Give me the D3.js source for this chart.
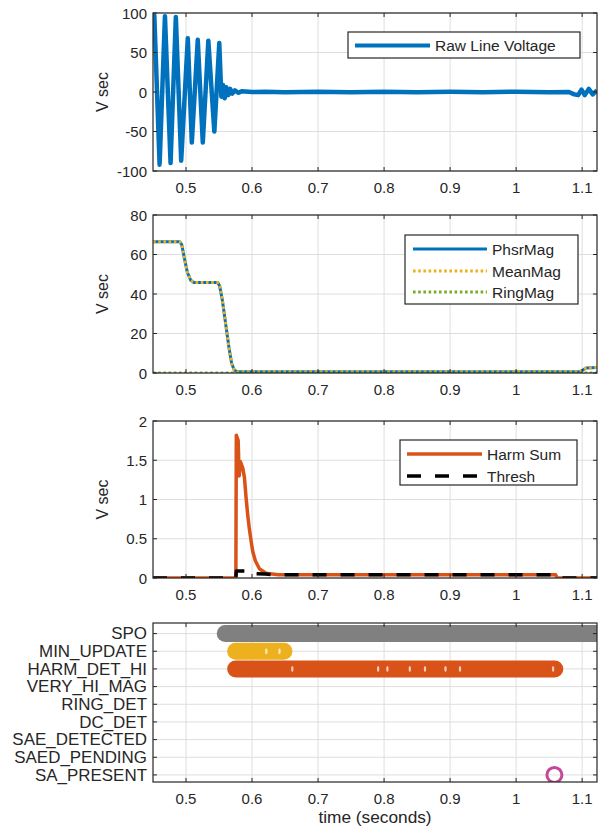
<!DOCTYPE html>
<html>
<head>
<meta charset="utf-8">
<script src="https://cdn.jsdelivr.net/npm/d3@7"></script>
<style>
  body { margin: 0; background: #fff; }
  svg { display: block; font-family: "Liberation Sans", Arial, sans-serif; }
</style>
</head>
<body>
<svg id="chart" width="598" height="826"></svg>
<script>
// ---- data ----
const xTicks = [0.5, 0.6, 0.7, 0.8, 0.9, 1, 1.1];

// raw line voltage (peaks / troughs)
const rawT = [0.4500, 0.4520, 0.4600, 0.4681, 0.4766, 0.4846, 0.4927, 0.5027, 0.5088, 0.5178,
  0.5254, 0.5338, 0.5429, 0.5504, 0.5535, 0.5560, 0.5585, 0.5610, 0.5640, 0.5670, 0.5700,
  0.5740, 0.5790, 0.5850, 0.6000, 0.6200, 0.6500, 0.7000, 0.7500, 0.8000, 0.8500, 0.9000,
  0.9500, 1.0000, 1.0500, 1.0800, 1.0880, 1.0940, 1.0990, 1.1040, 1.1100, 1.1160, 1.1225];
const rawV = [88, 97, -92, 96, -90, 95, -87, 68, -64, 66,
  -64, 65, -50, 62, -6, 9, -8, 6, -4, 4, -2,
  2, -1, 1, 0, 0.4, -0.2, 0.3, -0.2, 0.3, -0.3, 0.2,
  -0.2, 0.3, -0.2, 0, -3, -4, 3, -4, 4, -3, 2];

// magnitudes
const magT = [0.45, 0.4905, 0.4935, 0.497, 0.502, 0.507, 0.512, 0.548, 0.551, 0.555,
  0.560, 0.565, 0.569, 0.573, 0.578, 1.097, 1.101, 1.106, 1.1225];
const phsrMag = [66.5, 66.5, 65, 59, 51, 47, 45.8, 45.8, 44, 37,
  25, 13, 5, 1.5, 0.6, 0.6, 1.5, 2.5, 2.8];
const meanMag = [66.5, 66.5, 65, 59, 51, 47, 45.8, 45.8, 44, 37,
  25, 13, 5, 1.5, 0.6, 0.6, 1.5, 2.5, 2.8];
const ringT = [0.45, 1.1225];
const ringMag = [0, 0];

// harmonics
const harmT = [0.45, 0.5755, 0.5762, 0.5790, 0.5805, 0.5825, 0.5860, 0.5885, 0.5910, 0.5935,
  0.5960, 0.5990, 0.6010, 0.6050, 0.6110, 0.6210, 0.6400, 1.0600, 1.0620, 1.1225];
const harmSum = [0, 0, 1.82, 1.75, 1.30, 1.48, 1.40, 1.28, 1.02, 0.80,
  0.62, 0.45, 0.34, 0.22, 0.12, 0.06, 0.04, 0.04, 0, 0];
const threshT = [0.45, 0.5755, 0.5762, 0.5920, 0.5930, 0.6200, 0.6400, 1.0600, 1.0620, 1.1225];
const thresh = [0, 0, 0.09, 0.09, 0.06, 0.05, 0.04, 0.04, 0, 0];

// status flags (top to bottom)
const flagNames = ["SPO", "MIN_UPDATE", "HARM_DET_HI", "VERY_HI_MAG", "RING_DET",
  "DC_DET", "SAE_DETECTED", "SAED_PENDING", "SA_PRESENT"];
const spoOn = [[0.5594, 1.13]];
const minUpdateOn = [[0.5752, 0.6483]];
const harmDetOn = [[0.5752, 1.0586]];
const minUpdateGaps = [0.6216, 0.6416];
const harmDetGaps = [0.661, 0.791, 0.805, 0.839, 0.862, 0.893, 0.915, 1.056];
const saPresentT = [1.058];

// ---- drawing ----
const svg = d3.select("#chart");
const textColor = "#262626";
const gridColor = "#dedede";

const x = d3.scaleLinear().domain([0.45, 1.1225]).range([153, 597]);

function zip(ts, vs) {
  return ts.map((t, i) => [t, vs[i]]);
}

function stretchText(sel, px, py, sx) {
  return sel.attr("transform", `translate(${px},${py}) scale(${sx},1)`);
}

function makePanel(id, top, bottom, yDomain, yTicks, yFormat) {
  const y = d3.scaleLinear().domain(yDomain).range([bottom, top]);
  const g = svg.append("g");

  g.append("clipPath").attr("id", "clip" + id)
    .append("rect")
    .attr("x", x.range()[0]).attr("y", top)
    .attr("width", x.range()[1] - x.range()[0]).attr("height", bottom - top);

  // grid
  g.append("g").selectAll("line").data(xTicks).join("line")
    .attr("x1", d => x(d)).attr("x2", d => x(d))
    .attr("y1", top).attr("y2", bottom)
    .attr("stroke", gridColor);
  g.append("g").selectAll("line").data(yTicks).join("line")
    .attr("x1", x.range()[0]).attr("x2", x.range()[1])
    .attr("y1", d => y(d)).attr("y2", d => y(d))
    .attr("stroke", gridColor);

  const plot = g.append("g").attr("clip-path", `url(#clip${id})`);
  const front = svg.append("g");

  function finish() {
    // box
    front.append("rect")
      .attr("x", x.range()[0]).attr("y", top)
      .attr("width", x.range()[1] - x.range()[0]).attr("height", bottom - top)
      .attr("fill", "none").attr("stroke", textColor).attr("stroke-width", 1.2);
    // inward ticks, all four sides
    const tk = 4;
    xTicks.forEach(t => {
      front.append("line").attr("x1", x(t)).attr("x2", x(t)).attr("y1", bottom).attr("y2", bottom - tk).attr("stroke", textColor);
      front.append("line").attr("x1", x(t)).attr("x2", x(t)).attr("y1", top).attr("y2", top + tk).attr("stroke", textColor);
    });
    yTicks.forEach(v => {
      front.append("line").attr("x1", x.range()[0]).attr("x2", x.range()[0] + tk).attr("y1", y(v)).attr("y2", y(v)).attr("stroke", textColor);
      front.append("line").attr("x1", x.range()[1]).attr("x2", x.range()[1] - tk).attr("y1", y(v)).attr("y2", y(v)).attr("stroke", textColor);
    });
    // tick labels
    front.append("g").selectAll("text").data(xTicks).join("text")
      .attr("x", d => x(d)).attr("y", bottom + 16)
      .attr("text-anchor", "middle").attr("dominant-baseline", "central")
      .attr("font-size", 15).attr("fill", textColor)
      .text(d => String(d));
    const yl = front.append("g").selectAll("text").data(yTicks).join("text")
      .attr("text-anchor", "end").attr("dominant-baseline", "central")
      .attr("font-size", yFormat ? 16 : 15).attr("fill", textColor)
      .text(d => yFormat ? yFormat(d) : String(d));
    yl.attr("transform", d => `translate(${x.range()[0] - 6},${y(d)}) scale(${yFormat ? 1.06 : 1},1)`);
  }

  return { g, plot, front, y, top, bottom, finish };
}

function yLabel(p, label) {
  p.front.append("text")
    .attr("transform", `translate(102,${(p.top + p.bottom) / 2}) rotate(-90)`)
    .attr("text-anchor", "middle").attr("dominant-baseline", "central")
    .attr("font-size", 16).attr("fill", textColor)
    .text(label);
}

function drawLine(p, pts, color, width, dash) {
  const line = d3.line().x(d => x(d[0])).y(d => p.y(d[1]));
  p.plot.append("path")
    .attr("d", line(pts))
    .attr("fill", "none")
    .attr("stroke", color)
    .attr("stroke-width", width)
    .attr("stroke-linejoin", "round")
    .attr("stroke-dasharray", dash || null);
}

function legend(p, box, entries) {
  const lg = p.front.append("g");
  lg.append("rect")
    .attr("x", box.x).attr("y", box.y).attr("width", box.w).attr("height", box.h)
    .attr("fill", "#fff").attr("stroke", textColor).attr("stroke-width", 1.2);
  entries.forEach(e => {
    lg.append("line")
      .attr("x1", box.lx0).attr("x2", box.lx1).attr("y1", e.y).attr("y2", e.y)
      .attr("stroke", e.color).attr("stroke-width", e.width)
      .attr("stroke-dasharray", e.dash || null);
    lg.append("text")
      .attr("x", box.tx).attr("y", e.y)
      .attr("dominant-baseline", "central")
      .attr("font-size", 15.5).attr("fill", textColor)
      .text(e.label);
  });
}

// panel 1: raw voltage
const p1 = makePanel(1, 13, 171, [-100, 100], [-100, -50, 0, 50, 100]);
drawLine(p1, zip(rawT, rawV), "#0072BD", 4.5);
p1.finish();
yLabel(p1, "V sec");
legend(p1, { x: 348, y: 32, w: 232, h: 26, lx0: 355, lx1: 430, tx: 435 }, [
  { label: "Raw Line Voltage", color: "#0072BD", width: 4, y: 45.5 }
]);

// panel 2: magnitudes
const p2 = makePanel(2, 215, 373, [0, 80], [0, 20, 40, 60, 80]);
drawLine(p2, zip(magT, phsrMag), "#0072BD", 3);
drawLine(p2, zip(magT, meanMag), "#EDB120", 3, "2.6,2.6");
drawLine(p2, zip(ringT, ringMag), "#77AC30", 3, "2.6,2.6");
p2.finish();
yLabel(p2, "V sec");
legend(p2, { x: 405, y: 235, w: 173, h: 69, lx0: 413, lx1: 487, tx: 492 }, [
  { label: "PhsrMag", color: "#0072BD", width: 3, y: 249 },
  { label: "MeanMag", color: "#EDB120", width: 3, dash: "2.6,2.6", y: 271 },
  { label: "RingMag", color: "#77AC30", width: 3, dash: "2.6,2.6", y: 292 }
]);

// panel 3: harmonics
const p3 = makePanel(3, 421, 578, [0, 2], [0, 0.5, 1, 1.5, 2]);
drawLine(p3, zip(harmT, harmSum), "#D95319", 3.5);
drawLine(p3, zip(threshT, thresh), "#000000", 3.5, "14,14");
p3.finish();
yLabel(p3, "V sec");
legend(p3, { x: 400, y: 440, w: 177, h: 45, lx0: 407, lx1: 482, tx: 487 }, [
  { label: "Harm Sum", color: "#D95319", width: 3.5, y: 454 },
  { label: "Thresh", color: "#000000", width: 3.5, dash: "14,14", y: 476 }
]);

// panel 4: flags
const flagIdx = d3.scaleOrdinal().domain(flagNames).range(d3.range(flagNames.length, 0, -1));
const flagTicks = d3.range(1, flagNames.length + 1);
const p4 = makePanel(4, 623, 782, [0.6, 9.6], flagTicks, v => flagNames[flagNames.length - v]);

function drawBand(name, spans, color) {
  const yy = p4.y(flagIdx(name));
  p4.plot.append("g").selectAll("line").data(spans).join("line")
    .attr("x1", d => x(d[0])).attr("x2", d => x(d[1]))
    .attr("y1", yy).attr("y2", yy)
    .attr("stroke", color).attr("stroke-width", 17)
    .attr("stroke-linecap", "round");
}

function drawGaps(name, ts) {
  const yy = p4.y(flagIdx(name));
  p4.plot.append("g").selectAll("ellipse").data(ts).join("ellipse")
    .attr("cx", d => x(d)).attr("cy", yy)
    .attr("rx", 1.2).attr("ry", 3)
    .attr("fill", "#fff").attr("opacity", 0.7);
}

drawBand("SPO", spoOn, "#808080");
drawBand("MIN_UPDATE", minUpdateOn, "#EDB120");
drawBand("HARM_DET_HI", harmDetOn, "#D95319");
drawGaps("MIN_UPDATE", minUpdateGaps);
drawGaps("HARM_DET_HI", harmDetGaps);

p4.plot.append("g").selectAll("circle").data(saPresentT).join("circle")
  .attr("cx", d => x(d)).attr("cy", p4.y(flagIdx("SA_PRESENT")))
  .attr("r", 7.5)
  .attr("fill", "none").attr("stroke", "#C4489A").attr("stroke-width", 3);

p4.finish();

stretchText(
  p4.front.append("text")
    .attr("text-anchor", "middle").attr("dominant-baseline", "central")
    .attr("font-size", 16).attr("fill", textColor)
    .text("time (seconds)"),
  (x.range()[0] + x.range()[1]) / 2, 818, 1.08);
</script>
</body>
</html>
